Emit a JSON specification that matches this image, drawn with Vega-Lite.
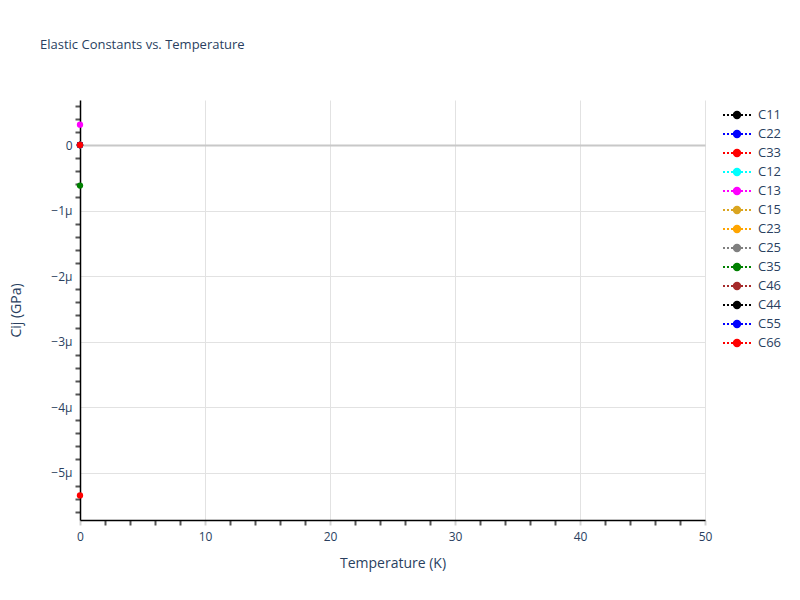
{
  "$schema": "https://vega.github.io/schema/vega-lite/v6.json",
  "autosize": "none",
  "width": 625,
  "height": 420,
  "padding": {"left": 80, "top": 100, "right": 95, "bottom": 80},
  "background": "white",
  "title": {
    "text": "Elastic Constants vs. Temperature",
    "anchor": "start",
    "frame": "group",
    "dx": -40,
    "offset": 48,
    "fontSize": 13,
    "fontWeight": "normal",
    "font": "Open Sans",
    "color": "#2a3f5f"
  },
  "config": {
    "view": {"stroke": null},
    "font": "Open Sans"
  },
  "data": {
    "values": [
      {"T": 0, "Cij": 0, "series": "C11"},
      {"T": 0, "Cij": 0, "series": "C22"},
      {"T": 0, "Cij": -5.35e-6, "series": "C33"},
      {"T": 0, "Cij": 0, "series": "C12"},
      {"T": 0, "Cij": 3.1e-7, "series": "C13"},
      {"T": 0, "Cij": 0, "series": "C15"},
      {"T": 0, "Cij": 0, "series": "C23"},
      {"T": 0, "Cij": 0, "series": "C25"},
      {"T": 0, "Cij": -6.2e-7, "series": "C35"},
      {"T": 0, "Cij": 0, "series": "C46"},
      {"T": 0, "Cij": 0, "series": "C44"},
      {"T": 0, "Cij": 0, "series": "C55"},
      {"T": 0, "Cij": 0, "series": "C66"}
    ]
  },
  "encoding": {
    "x": {
      "field": "T",
      "type": "quantitative",
      "title": "Temperature (K)",
      "scale": {"domain": [0, 50], "nice": false, "zero": false},
      "axis": {
        "values": [0, 2, 4, 6, 8, 10, 12, 14, 16, 18, 20, 22, 24, 26, 28, 30, 32, 34, 36, 38, 40, 42, 44, 46, 48, 50],
        "labelExpr": "datum.value % 10 === 0 ? datum.label : ''",
        "labelFlush": false,
        "grid": true,
        "gridColor": "#e2e2e2",
        "gridOpacity": {"condition": {"test": "datum.value % 10 === 0", "value": 1}, "value": 0},
        "domainColor": "#000000",
        "domainWidth": 1.5,
        "tickSize": 5,
        "tickColor": {"condition": {"test": "datum.value % 10 === 0", "value": "#d0d0d0"}, "value": "#555555"},
        "tickWidth": 2,
        "labelFontSize": 12,
        "labelColor": "#2a3f5f",
        "labelPadding": 6,
        "labelFont": "Open Sans",
        "titleFont": "Open Sans",
        "titleFontSize": 14,
        "titleFontWeight": "normal",
        "titleColor": "#2a3f5f",
        "titlePadding": 14
      }
    },
    "y": {
      "field": "Cij",
      "type": "quantitative",
      "title": "Cij (GPa)",
      "scale": {"domain": [-5.725e-6, 6.87e-7], "nice": false, "zero": false},
      "axis": {
        "values": [6e-7, 4e-7, 2e-7, 0, -2e-7, -4e-7, -6e-7, -8e-7, -1e-6, -1.2e-6, -1.4e-6, -1.6e-6, -1.8e-6, -2e-6, -2.2e-6, -2.4e-6, -2.6e-6, -2.8e-6, -3e-6, -3.2e-6, -3.4e-6, -3.6e-6, -3.8e-6, -4e-6, -4.2e-6, -4.4e-6, -4.6e-6, -4.8e-6, -5e-6, -5.2e-6, -5.4e-6, -5.6e-6],
        "labelExpr": "abs(datum.value*1e6 - round(datum.value*1e6)) < 0.01 ? (datum.value === 0 ? '0' : replace(format(datum.value, '~s'), '-', '\u2212')) : ''",
        "labelFlush": false,
        "grid": true,
        "gridColor": {"condition": {"test": "datum.value === 0", "value": "#c8c8c8"}, "value": "#e2e2e2"},
        "gridWidth": {"condition": {"test": "datum.value === 0", "value": 2}, "value": 1},
        "gridOpacity": {"condition": {"test": "abs(datum.value*1e6 - round(datum.value*1e6)) < 0.01", "value": 1}, "value": 0},
        "domainColor": "#000000",
        "domainWidth": 1.5,
        "tickSize": 5,
        "tickColor": {"condition": {"test": "abs(datum.value*1e6 - round(datum.value*1e6)) < 0.01", "value": "#ffffff"}, "value": "#555555"},
        "tickWidth": 2,
        "labelFontSize": 12,
        "labelColor": "#2a3f5f",
        "labelPadding": 3,
        "labelFont": "Open Sans",
        "titleFont": "Open Sans",
        "titleFontSize": 14,
        "titleFontWeight": "normal",
        "titleColor": "#2a3f5f",
        "titlePadding": 27
      }
    },
    "color": {
      "field": "series",
      "type": "nominal",
      "scale": {
        "domain": ["C11", "C22", "C33", "C12", "C13", "C15", "C23", "C25", "C35", "C46", "C44", "C55", "C66"],
        "range": ["#000000", "#0000ff", "#ff0000", "#00ffff", "#ff00ff", "#daa520", "#ffa500", "#808080", "#008000", "#a52a2a", "#000000", "#0000ff", "#ff0000"]
      },
      "legend": {
        "title": null,
        "orient": "none",
        "legendX": 648,
        "legendY": 6,
        "padding": 0,
        "symbolType": "M-1.75,0L-1.5,0M-1.25,0L-1,0M-0.75,0L-0.5,0M0.5,0L0.75,0M1,0L1.25,0M1.5,0L1.75,0M0.4,0A0.4,0.4 0 1,1 -0.4,0A0.4,0.4 0 1,1 0.4,0",
        "symbolSize": 256,
        "symbolStrokeWidth": 2,
        "labelOffset": 12,
        "rowPadding": 2,
        "labelFontSize": 13,
        "labelColor": "#2a3f5f",
        "labelFont": "Open Sans"
      }
    }
  },
  "layer": [
    {
      "mark": {"type": "line", "strokeDash": [2, 2], "strokeWidth": 2, "clip": false},
      "encoding": {"detail": {"field": "series"}}
    },
    {
      "mark": {"type": "point", "filled": true, "opacity": 1, "size": 40, "clip": false}
    }
  ]
}
